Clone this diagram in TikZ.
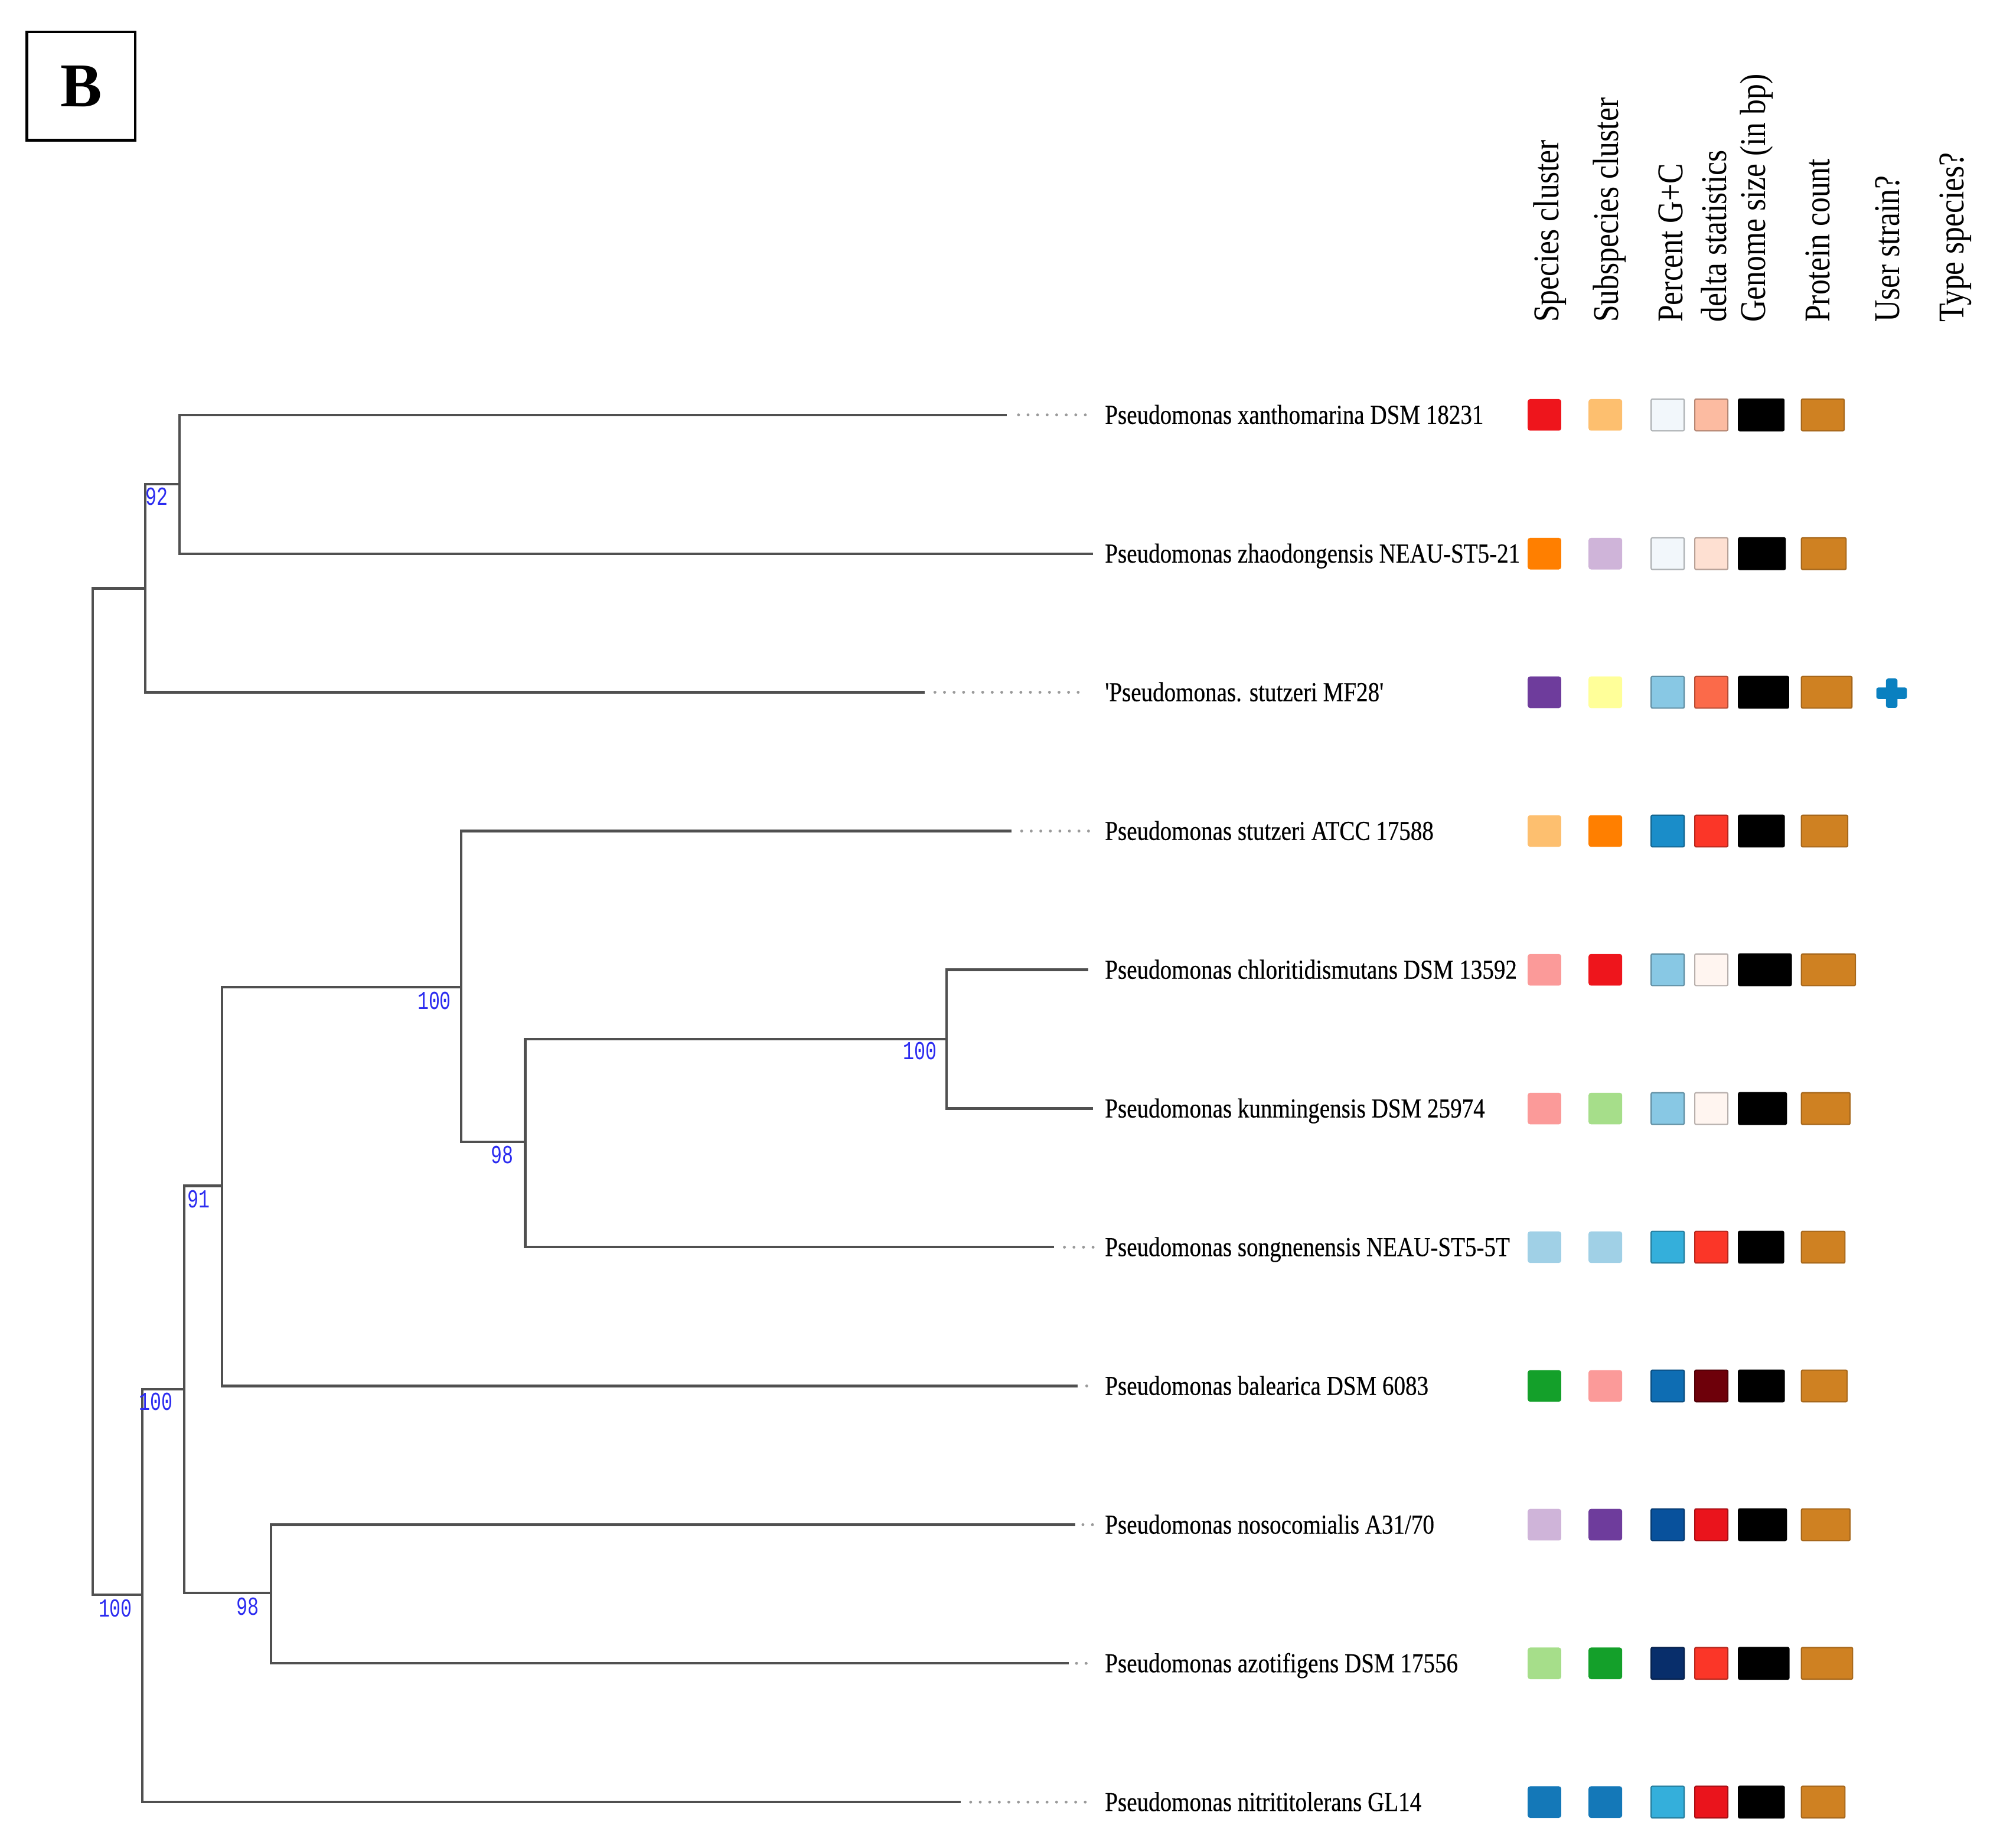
\documentclass[tikz,border=0pt]{standalone}
\usepackage{fontspec}
\setmainfont{Liberation Serif}
\newfontfamily\labfont[FakeStretch=0.842,FakeBold=0.4]{Liberation Serif}
\newfontfamily\hdfont[FakeStretch=0.84]{Liberation Serif}
\newfontfamily\bsfont[FakeStretch=0.72]{Liberation Mono}
\usetikzlibrary{calc}
\definecolor{branch}{HTML}{505050}
\definecolor{dotgray}{HTML}{9A9A9A}
\definecolor{bsblue}{HTML}{2B2BF0}
\definecolor{PRed}{HTML}{EE151C}
\definecolor{POrange}{HTML}{FF7F00}
\definecolor{PLOrange}{HTML}{FDBF6F}
\definecolor{PLPurple}{HTML}{CFB4D9}
\definecolor{PPurple}{HTML}{6E3C9C}
\definecolor{PYellow}{HTML}{FFFF99}
\definecolor{PPink}{HTML}{FB9A99}
\definecolor{PLGreen}{HTML}{A6DE8A}
\definecolor{PGreen}{HTML}{14A02A}
\definecolor{PLBlue}{HTML}{A0D0E6}
\definecolor{PBlue}{HTML}{1478B8}
\definecolor{gcA}{HTML}{F2F7FB}
\definecolor{gcB}{HTML}{88C8E4}
\definecolor{gcC}{HTML}{1A8DC9}
\definecolor{gcD}{HTML}{34AFDB}
\definecolor{gcE}{HTML}{0E6DB3}
\definecolor{gcF}{HTML}{08519C}
\definecolor{gcG}{HTML}{082E6B}
\definecolor{dA}{HTML}{FCBBA1}
\definecolor{dB}{HTML}{FEE0D2}
\definecolor{dC}{HTML}{FB6A4A}
\definecolor{dD}{HTML}{FB3628}
\definecolor{dE}{HTML}{FFF5F0}
\definecolor{dF}{HTML}{6E000A}
\definecolor{dG}{HTML}{EA141C}
\definecolor{gsize}{HTML}{000000}
\definecolor{pcount}{HTML}{CF8122}
\definecolor{plusblue}{HTML}{0A80C0}
\begin{document}
\begin{tikzpicture}[x=0.0216cm, y=-0.0216cm,
  br/.style={draw=branch, line width=1.2pt},
  dots/.style={draw=dotgray, line width=1.4pt, line cap=round, dash pattern=on 0pt off 4.6pt},
  lab/.style={anchor=base west, inner sep=0pt, font=\labfont\fontsize{13.2}{15}\selectfont},
  hd/.style={rotate=90, anchor=west, inner sep=0pt, font=\hdfont\fontsize{17.5}{20}\selectfont},
  bs/.style={anchor=north east, inner sep=0pt, text=bsblue, font=\bsfont\fontsize{12.5}{14}\selectfont},
  cellA/.style={rounded corners=1.2pt},
  cellB/.style={rounded corners=0.6pt, line width=0.6pt},
]
\useasboundingbox (0,0) rectangle (1568,1448.6);

% panel letter
\node (panel) [draw, line width=1.3pt, minimum width=1.836cm, minimum height=1.836cm, inner sep=0pt,
  font=\fontsize{30}{30}\selectfont\bfseries] at (63.5,67.5) {B};

% column headers
\node[hd] (h1) at (1215,253) {Species cluster};
\node[hd] (h2) at (1262,253) {Subspecies cluster};
\node[hd] (h3) at (1310,253) {Percent G+C};
\node[hd] (h4) at (1343.5,253) {delta statistics};
\node[hd] (h5) at (1377,253) {Genome size (in bp)};
\node[hd] (h6) at (1425,253) {Protein count};
\node[hd] (h7) at (1480,253) {User strain?};
\node[hd] (h8) at (1533,253) {Type species?};

% internal nodes
\coordinate (root) at (72.6,855);
\coordinate (A) at (114,461.3);
\coordinate (N92) at (140.6,379.5);
\coordinate (C) at (111.5,1250.5);
\coordinate (D) at (144.6,1089.2);
\coordinate (E) at (174.2,929.8);
\coordinate (F) at (361.5,774);
\coordinate (G) at (411.8,895.2);
\coordinate (H) at (742.2,814.6);
\coordinate (I) at (212.4,1249);

% leaf tips
\coordinate (t1) at (789.5,325.3);
\coordinate (t2) at (857,434.1);
\coordinate (t3) at (725,542.8);
\coordinate (t4) at (793,651.6);
\coordinate (t5) at (853,760.4);
\coordinate (t6) at (857,869.2);
\coordinate (t7) at (826.5,977.9);
\coordinate (t8) at (845,1086.7);
\coordinate (t9) at (843,1195.5);
\coordinate (t10) at (838,1304.2);
\coordinate (t11) at (753,1413);

% branches
\draw[br] (root) |- (A);
\draw[br] (root) |- (C);
\draw[br] (A) |- (N92);
\draw[br] (A) |- (t3);
\draw[br] (N92) |- (t1);
\draw[br] (N92) |- (t2);
\draw[br] (C) |- (D);
\draw[br] (C) |- (t11);
\draw[br] (D) |- (E);
\draw[br] (D) |- (I);
\draw[br] (E) |- (F);
\draw[br] (E) |- (t8);
\draw[br] (F) |- (t4);
\draw[br] (F) |- (G);
\draw[br] (G) |- (H);
\draw[br] (G) |- (t7);
\draw[br] (H) |- (t5);
\draw[br] (H) |- (t6);
\draw[br] (I) |- (t9);
\draw[br] (I) |- (t10);

% support values
\node[bs] (b92) at ($(N92)+(-8.5,2.5)$) {92};
\node[bs] (bC) at ($(C)+(-7.5,3.3)$) {100};
\node[bs] (bD) at ($(D)+(-9,2.8)$) {100};
\node[bs] (bE) at ($(E)+(-9.5,3.2)$) {91};
\node[bs] (bF) at ($(F)+(-7.5,3.3)$) {100};
\node[bs] (bG) at ($(G)+(-9,3.3)$) {98};
\node[bs] (bH) at ($(H)+(-7.5,2.4)$) {100};
\node[bs] (bI) at ($(I)+(-9,3.4)$) {98};

% leaf labels
\node[lab] (L1) at (866,332.3) {Pseudomonas xanthomarina DSM 18231};
\node[lab] (L2) at (866,441.1) {Pseudomonas zhaodongensis NEAU-ST5-21};
\node[lab] (L3) at (866,549.8) {'Pseudomonas. stutzeri MF28'};
\node[lab] (L4) at (866,658.6) {Pseudomonas stutzeri ATCC 17588};
\node[lab] (L5) at (866,767.4) {Pseudomonas chloritidismutans DSM 13592};
\node[lab] (L6) at (866,876.2) {Pseudomonas kunmingensis DSM 25974};
\node[lab] (L7) at (866,984.9) {Pseudomonas songnenensis NEAU-ST5-5T};
\node[lab] (L8) at (866,1093.7) {Pseudomonas balearica DSM 6083};
\node[lab] (L9) at (866,1202.5) {Pseudomonas nosocomialis A31/70};
\node[lab] (L10) at (866,1311.2) {Pseudomonas azotifigens DSM 17556};
\node[lab] (L11) at (866,1420) {Pseudomonas nitrititolerans GL14};

% dotted leaders
\draw[dots] ($(t1)+(9,0)$) -- ($(t1 -| L1.west)+(-14,0)$);
\draw[dots] ($(t3)+(8,0)$) -- ($(t3 -| L3.west)+(-14,0)$);
\draw[dots] ($(t4)+(8,0)$) -- ($(t4 -| L4.west)+(-12,0)$);
\draw[dots] ($(t7)+(8,0)$) -- ($(t7 -| L7.west)+(-9,0)$);
\draw[dots] ($(t8)+(7,0)$) -- ($(t8 -| L8.west)+(-9,0)$);
\draw[dots] ($(t9)+(6,0)$) -- ($(t9 -| L9.west)+(-9,0)$);
\draw[dots] ($(t10)+(6,0)$) -- ($(t10 -| L10.west)+(-9,0)$);
\draw[dots] ($(t11)+(8,0)$) -- ($(t11 -| L11.west)+(-11,0)$);

% data cells
\foreach \r/\ca/\cb/\cc/\cd/\xe/\xf in {
  325.3/PRed/PLOrange/gcA/dA/1398.6/1445.8,
  434.1/POrange/PLPurple/gcA/dB/1399.6/1447.3,
  542.8/PPurple/PYellow/gcB/dC/1402.2/1451.9,
  651.6/PLOrange/POrange/gcC/dD/1398.8/1448.6,
  760.4/PPink/PRed/gcB/dE/1404.3/1454.6,
  869.2/PPink/PLGreen/gcB/dE/1400.5/1450.4,
  977.9/PLBlue/PLBlue/gcD/dD/1398.3/1446.4,
  1086.7/PGreen/PPink/gcE/dF/1398.8/1448.1,
  1195.5/PLPurple/PPurple/gcF/dG/1400.5/1450.4,
  1304.2/PLGreen/PGreen/gcG/dD/1402.5/1452.4,
  1413/PBlue/PBlue/gcD/dG/1398.8/1446.4}{
  \fill[cellA, \ca] (1197.7,\r-12.4) rectangle (1224,\r+12.4);
  \fill[cellA, \cb] (1245.4,\r-12.4) rectangle (1271.8,\r+12.4);
  \filldraw[cellB, fill=\cc, draw=\cc!72!black] (1294.5,\r-12.4) rectangle (1320.4,\r+12.4);
  \filldraw[cellB, fill=\cd, draw=\cd!72!black] (1328.7,\r-12.4) rectangle (1354.6,\r+12.4);
  \filldraw[cellB, fill=gsize, draw=gsize] (1363,\r-12.4) rectangle (\xe,\r+12.4);
  \filldraw[cellB, fill=pcount, draw=pcount!80!black] (1412.3,\r-12.4) rectangle (\xf,\r+12.4);
}

% user strain mark
\fill[plusblue, rounded corners=1pt] (1478.6,532) rectangle (1487.6,555);
\fill[plusblue, rounded corners=1pt] (1471,539) rectangle (1495,548);
\end{tikzpicture}
\end{document}
